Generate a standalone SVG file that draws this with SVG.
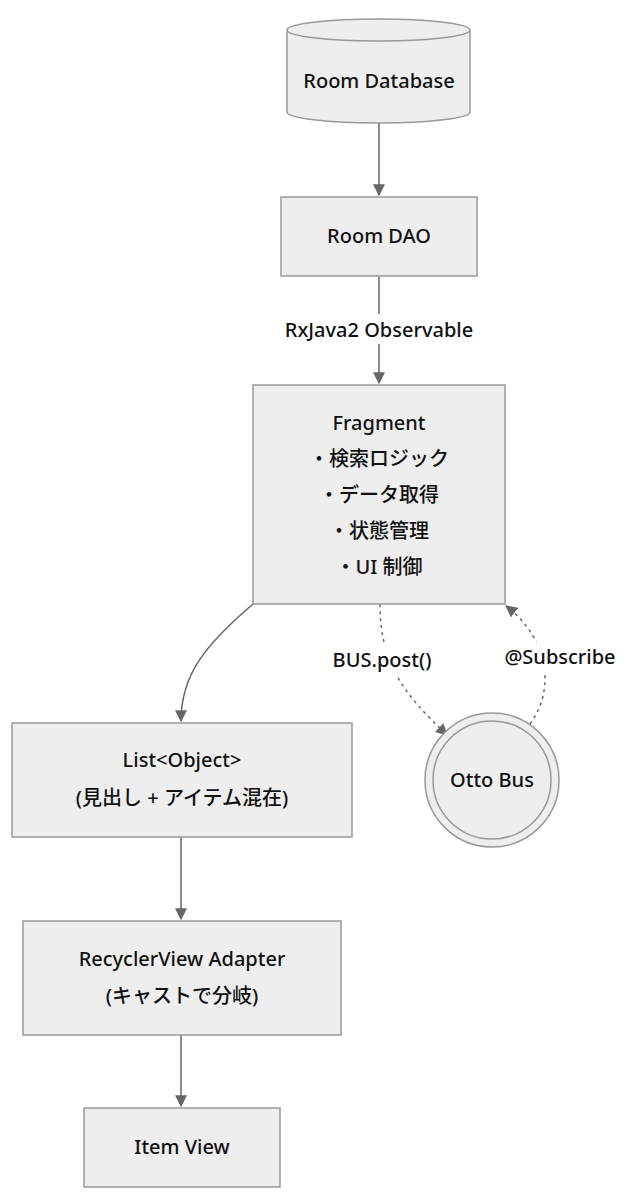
<svg xmlns="http://www.w3.org/2000/svg" width="632" height="1200" viewBox="0 0 632 1200">
<style>
.n{fill:#eeeeee;stroke:#999999;stroke-width:1.5}
.t{font-family:"Noto Sans","Noto Sans CJK JP",sans-serif;font-size:20px;font-weight:500;fill:#111;text-anchor:middle}
.e{fill:none;stroke:#666;stroke-width:1.5}
.d{stroke-dasharray:3 4}
.lb{fill:#fff}
</style>
<defs><marker id="a" viewBox="0 0 10 10" refX="9" refY="5" markerWidth="8" markerHeight="8" orient="auto"><path d="M0,0L10,5L0,10z" fill="#666"/></marker></defs>
<rect width="632" height="1200" fill="#fff"/>
<g id="edges">
<path class="e" d="M379,122V195" marker-end="url(#a)"/>
<path class="e" d="M379,277V383" marker-end="url(#a)"/>
<rect class="lb" x="272" y="314" width="214" height="30"/>
<text class="t" x="379" y="337">RxJava2 Observable</text>
<path class="e" d="M253,604C205,645 181,675 181,721" marker-end="url(#a)"/>
<path class="e d" d="M380,604C380,665 405,695 447,735" marker-end="url(#a)"/>
<path class="e d" d="M530,724C555,690 550,640 506,606" marker-end="url(#a)"/>
<rect class="lb" x="318" y="645" width="128" height="30"/>
<text class="t" x="382" y="667">BUS.post()</text>
<rect class="lb" x="496" y="642" width="128" height="30"/>
<text class="t" x="560" y="664">@Subscribe</text>
<path class="e" d="M181,837V919" marker-end="url(#a)"/>
<path class="e" d="M181,1035V1106" marker-end="url(#a)"/>
</g>
<g id="db">
<path class="n" d="M287,30V112A91.5,11 0 0 0 470,112V30A91.5,11 0 0 0 287,30A91.5,11 0 0 0 470,30"/>
<text class="t" x="379" y="88">Room Database</text>
</g>
<g id="dao"><rect class="n" x="281" y="197" width="196" height="79"/><text class="t" x="379" y="243">Room DAO</text></g>
<g id="fragment"><rect class="n" x="253" y="385" width="252" height="219"/>
<text class="t" x="379" y="430">Fragment</text>
<text class="t" x="379" y="466">・検索ロジック</text>
<text class="t" x="379" y="502">・データ取得</text>
<text class="t" x="379" y="538">・状態管理</text>
<text class="t" x="379" y="574">・UI 制御</text></g>
<g id="list"><rect class="n" x="12" y="723" width="340" height="114"/>
<text class="t" x="182" y="767">List&lt;Object&gt;</text>
<text class="t" x="182" y="805">(見出し + アイテム混在)</text></g>
<g id="otto"><circle class="n" cx="492" cy="780" r="67"/><circle class="n" cx="492" cy="780" r="59"/>
<text class="t" x="492" y="787">Otto Bus</text></g>
<g id="adapter"><rect class="n" x="23" y="921" width="318" height="114"/>
<text class="t" x="182" y="966">RecyclerView Adapter</text>
<text class="t" x="182" y="1003">(キャストで分岐)</text></g>
<g id="item"><rect class="n" x="84" y="1108" width="196" height="79"/><text class="t" x="182" y="1154">Item View</text></g>
</svg>
